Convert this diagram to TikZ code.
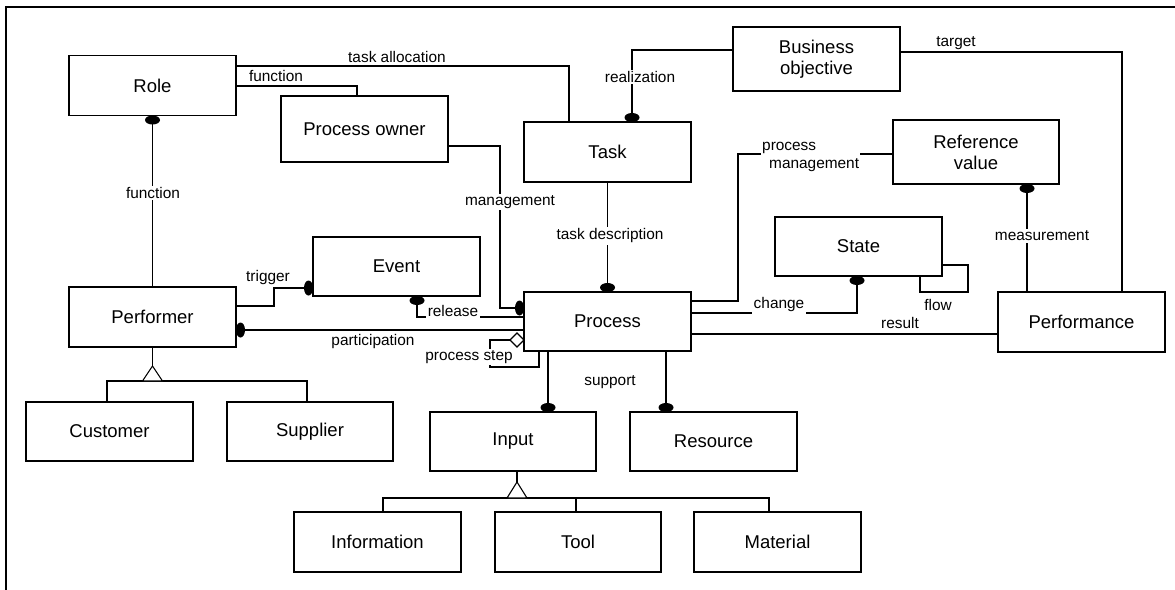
\documentclass[tikz,border=0pt]{standalone}
\usepackage{fontspec}
\setmainfont{Liberation Sans}
\usetikzlibrary{calc}
\begin{document}
\begin{tikzpicture}[x=1pt,y=-1pt,
  box/.style={draw, line width=1.5pt, fill=white, minimum width=167pt,
    minimum height=60pt, inner sep=0pt, outer sep=0pt, align=center,
    font=\fontsize{18.5}{21}\selectfont},
  conn/.style={line width=1.1pt},
  lbl/.style={font=\fontsize{15.4}{18}\selectfont, inner sep=1.5pt},
  lblw/.style={lbl, fill=white},
  hdot/.style={fill=black, x radius=7.5pt, y radius=4.5pt},
  vdot/.style={fill=black, x radius=4.5pt, y radius=7.5pt},
  gen/.style={draw, line width=1.1pt, fill=white},
]
\useasboundingbox (0,0) rectangle (1175,589);

% outer frame
\draw[line width=2.2pt] (6,600) -- (6,7) -- (1185,7);

% entity boxes
\node[box] (role) at (152.5,85.5) {Role};
\node[box, minimum height=66pt] (owner) at (364.5,129) {Process owner};
\node[box] (task) at (607.5,152) {Task};
\node[box, minimum height=64pt] (obj) at (816.5,59) {Business\\objective};
\node[box, minimum height=64pt, minimum width=166pt] (ref) at (976,152) {Reference\\value};
\node[box, minimum height=59pt] (event) at (396.5,266.5) {Event};
\node[box] (perf) at (152.5,317) {Performer};
\node[box, minimum height=59pt] (proc) at (607.5,321.5) {Process};
\node[box, minimum height=59pt] (state) at (858.5,246.5) {State};
\node[box] (perfm) at (1081.5,322) {Performance};
\node[box, minimum height=59pt] (cust) at (109.5,431.5) {Customer};
\node[box, minimum height=59pt, minimum width=166pt] (supp) at (310,431.5) {Supplier};
\node[box, minimum height=59pt, minimum width=166pt] (input) at (513,441.5) {Input};
\node[box, minimum height=59pt] (res) at (713.5,441.5) {Resource};
\node[box] (info) at (377.5,542) {Information};
\node[box, minimum width=166pt] (tool) at (578,542) {Tool};
\node[box] (mat) at (777.5,542) {Material};

% associations
\draw[conn] (role.east |- 0,66) -- (569,66) -- (task.north -| 569,0);
\draw[conn] (role.east |- 0,86) -- (357,86) -- (owner.north -| 357,0);
\draw[conn] (role.south) -- (perf.north);
\draw[conn] (obj.west |- 0,50) -- (632,50) -- (task.north -| 632,0);
\draw[conn] (obj.east |- 0,52) -- (1122,52) -- (perfm.north -| 1122,0);
\draw[conn] (proc.east |- 0,301) -- (738,301) -- (738,154) -- (ref.west |- 0,154);
\draw[conn] (task.south) -- (proc.north);
\draw[conn] (owner.east |- 0,146) -- (500,146) -- (500,308) -- (proc.west |- 0,308);
\draw[conn] (perf.east |- 0,306) -- (274,306) -- (274,288) -- (event.west |- 0,288);
\draw[conn] (proc.west |- 0,330) -- (perf.east |- 0,330);
\draw[conn] (event.south -| 417,0) -- (417,317) -- (proc.west |- 0,317);
\draw[conn] (510,340) -- (490,340) -- (490,367) -- (539,367) -- (proc.south -| 539,0);
\draw[conn] (proc.south -| 548,0) -- (input.north -| 548,0);
\draw[conn] (proc.south -| 666,0) -- (res.north -| 666,0);
\draw[conn] (proc.east |- 0,313) -- (857,313) -- (state.south -| 857,0);
\draw[conn] (state.east |- 0,265) -- (968,265) -- (968,292) -- (920,292) -- (state.south -| 920,0);
\draw[conn] (proc.east |- 0,334) -- (perfm.west |- 0,334);
\draw[conn] (ref.south -| 1027,0) -- (perfm.north -| 1027,0);

% generalization: Performer
\draw[conn] (perf.south) -- (152.5,366);
\draw[conn] (cust.north -| 107,0) -- (107,381) -- (307,381) -- (supp.north -| 307,0);
\draw[gen] (152.5,366) -- (142.5,381) -- (162.5,381) -- cycle;

% generalization: Input
\draw[conn] (input.south -| 517,0) -- (517,482);
\draw[conn] (info.north -| 383,0) -- (383,498) -- (769,498) -- (mat.north -| 769,0);
\draw[conn] (576,498) -- (tool.north -| 576,0);
\draw[gen] (517,482) -- (507,498) -- (527,498) -- cycle;

% aggregation diamond
\draw[gen] (proc.west |- 0,340) -- (517,333) -- (510,340) -- (517,347) -- cycle;

% filled association ends
\fill ($(role.south)+(0,4.5)$) ellipse [hdot];
\fill ($(task.north -| 632,0)+(0,-4.5)$) ellipse [hdot];
\fill ($(proc.north)+(0,-4.5)$) ellipse [hdot];
\fill ($(proc.west |- 0,308)+(-4.5,0)$) ellipse [vdot];
\fill ($(event.west |- 0,288)+(-4.5,0)$) ellipse [vdot];
\fill ($(perf.east |- 0,330)+(4.5,0)$) ellipse [vdot];
\fill ($(event.south -| 417,0)+(0,4.5)$) ellipse [hdot];
\fill ($(input.north -| 548,0)+(0,-4.5)$) ellipse [hdot];
\fill ($(res.north -| 666,0)+(0,-4.5)$) ellipse [hdot];
\fill ($(state.south -| 857,0)+(0,4.5)$) ellipse [hdot];
\fill ($(ref.south -| 1027,0)+(0,4.5)$) ellipse [hdot];

% association labels
\node[lbl] (l1) at (397,57) {task allocation};
\node[lbl] (l2) at (276,76) {function};
\node[lblw] (l3) at (153,193) {function};
\node[lblw] (l4) at (640,77) {realization};
\node[lbl] (l5) at (956,43) {target};
\node[lblw, anchor=west, align=left, inner sep=1pt] (l6) at (761,157)
  {process\\\hspace*{7pt}management};
\node[lblw] (l7) at (610,236) {task description};
\node[lblw] (l8) at (510,202) {management};
\node[lbl] (l9) at (268,278) {trigger};
\node[lbl] (l10) at (373,342) {participation};
\node[lblw] (l11) at (453,311) {release};
\node[lblw] (l12) at (469,357) {process step};
\node[lbl] (l13) at (610,382) {support};
\node[lblw] (l14) at (779,305) {change};
\node[lbl] (l15) at (938,305) {flow};
\node[lbl] (l16) at (900,323) {result};
\node[lblw] (l17) at (1042,236) {measurement};
\end{tikzpicture}
\end{document}
